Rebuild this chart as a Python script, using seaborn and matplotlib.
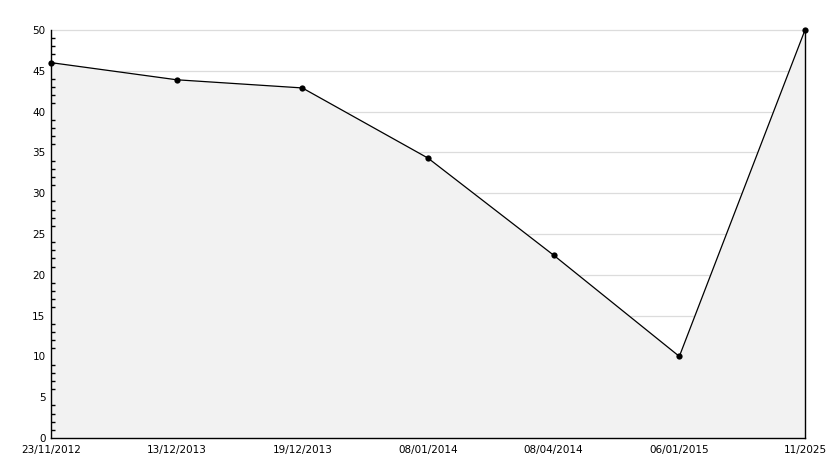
import pandas as pd
import seaborn as sns
import matplotlib.pyplot as plt
from matplotlib.ticker import MultipleLocator

# ---------------------------
# Datos
# ---------------------------
fechas = ["23/11/2012", "13/12/2013", "19/12/2013", "08/01/2014",
          "08/04/2014", "06/01/2015", "11/2025"]
valores = [46, 43.9, 42.9, 34.3, 22.4, 10, 50]
niveles_grid = [5, 10, 15, 20, 25, 30, 35, 40, 45, 50]

df = pd.DataFrame({"pos": range(len(fechas)), "valor": valores})

# ---------------------------
# Figura
# ---------------------------
sns.set_style("white")
plt.rcParams["font.family"] = ["DejaVu Sans"]

fig = plt.figure(figsize=(8.34, 4.68), dpi=100)
ax = fig.add_axes([51 / 834, 30 / 468, 754 / 834, 408 / 468])

# rejilla por debajo del relleno, ejes (ticks) por encima
for y in niveles_grid:
    ax.axhline(y, color="#dcdcdc", lw=0.9, zorder=0.5)

ax.fill_between(df["pos"], df["valor"], 0, color="#f2f2f2", zorder=1)
sns.lineplot(data=df, x="pos", y="valor", ax=ax, color="black", lw=0.9,
             marker="o", markersize=4.5, markeredgewidth=0, zorder=3)
for ln in ax.lines:
    ln.set_clip_on(False)

ax.set_xlim(0, len(fechas) - 1)
ax.set_ylim(0, 50)
ax.set_xticks(range(len(fechas)))
ax.set_xticklabels(fechas)
ax.yaxis.set_major_locator(MultipleLocator(5))
ax.yaxis.set_minor_locator(MultipleLocator(1))
ax.grid(False)
ax.set_axisbelow(False)

ax.tick_params(axis="both", which="major", direction="in", length=5,
               width=1, color="black", labelcolor="black", labelsize=7.5,
               pad=4)
ax.tick_params(axis="y", which="minor", direction="in", length=3,
               width=1, color="black", left=True)
ax.tick_params(axis="x", pad=5)

ax.set_xlabel("")
ax.set_ylabel("")

for lado in ["left", "bottom", "right"]:
    ax.spines[lado].set_color("black")
    ax.spines[lado].set_linewidth(1)
ax.spines["top"].set_visible(False)

plt.savefig("out.png", dpi=100)
plt.close()
